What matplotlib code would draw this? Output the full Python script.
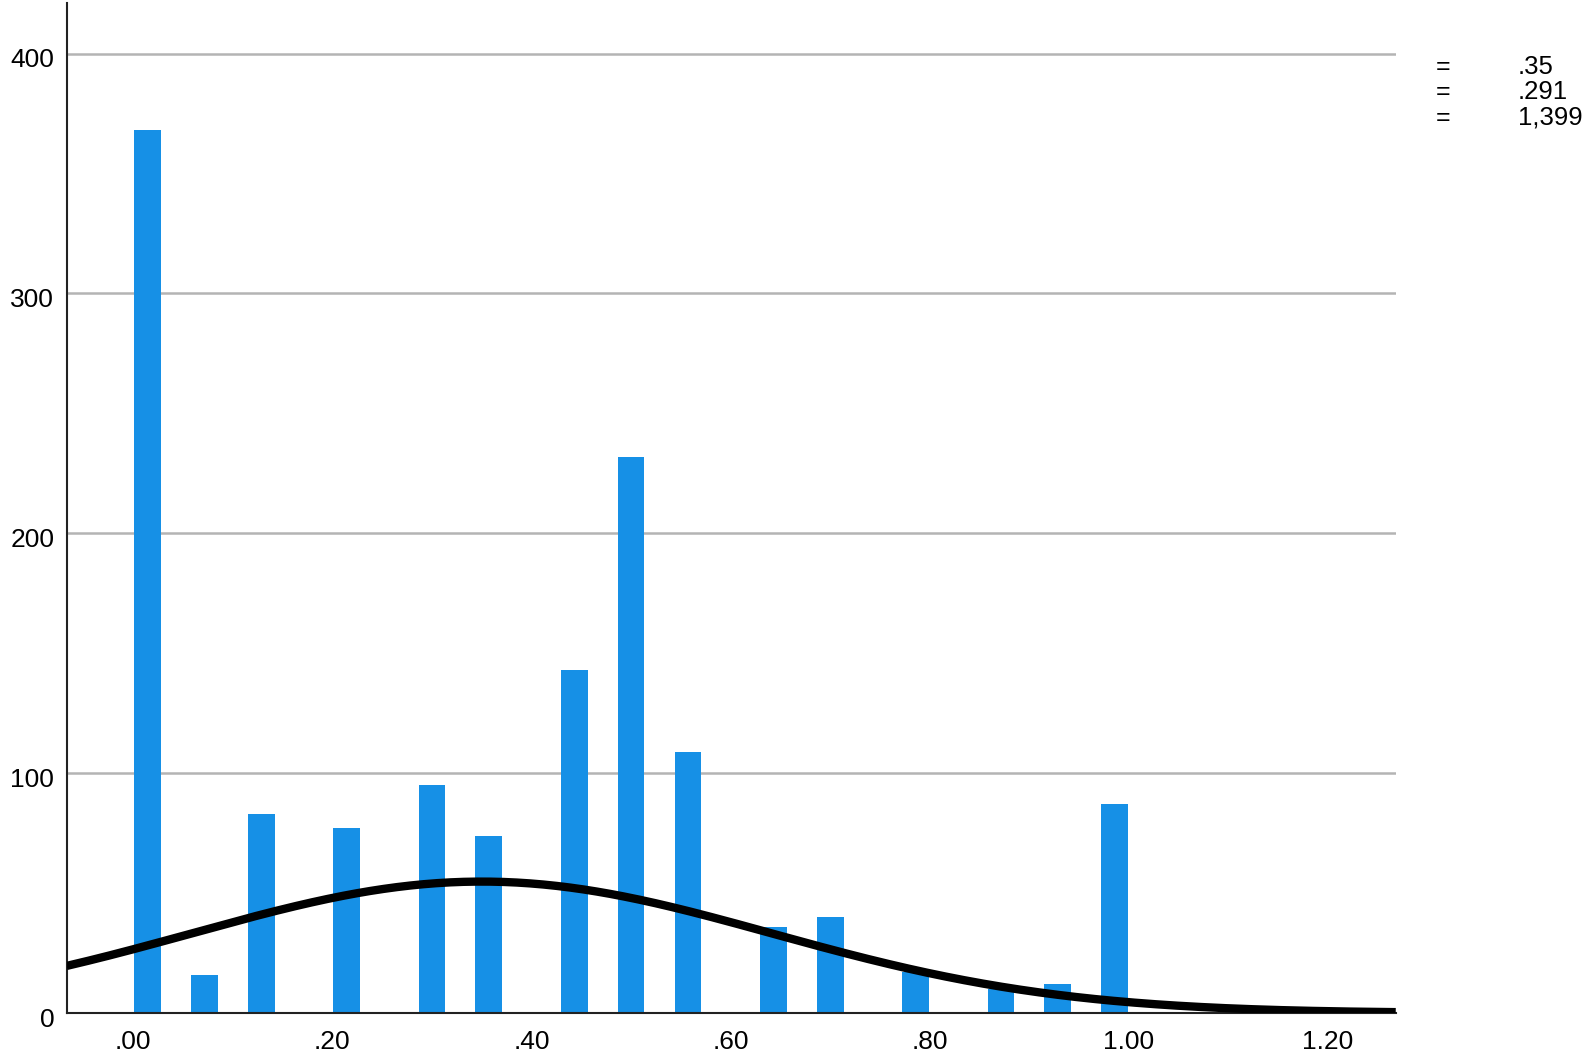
import numpy as np
import matplotlib
matplotlib.use("Agg")
import matplotlib.pyplot as plt
import matplotlib.transforms as mtransforms

plt.rcParams['font.family'] = ['Liberation Sans', 'DejaVu Sans']

# Data
n_bins_per_unit = 35                      # bin width = 1/35
bin_index = [0, 2, 4, 7, 10, 12, 15, 17, 19, 22, 24, 27, 30, 32, 34]
counts = [368, 16, 83, 77, 95, 74, 143, 232, 109, 36, 40, 17, 10, 12, 87]
mean_val = 0.35
std_val = 0.291
n_total = 1399
stat_values = [".35", ".291", "1,399"]
x_ticks = [0.0, 0.2, 0.4, 0.6, 0.8, 1.0, 1.2]
x_tick_labels = [".00", ".20", ".40", ".60", ".80", "1.00", "1.20"]
y_ticks = [0, 100, 200, 300, 400]

bw = 1.0 / n_bins_per_unit
centers = [(k + 0.5) * bw for k in bin_index]

fig = plt.figure(figsize=(15.83, 10.57), dpi=100)
ax = fig.add_axes([0.0421, 0.0416, 0.8396, 0.9554])

xmin, xmax = -0.0669, 1.268
ax.set_xlim(xmin, xmax)
ax.set_ylim(0, 421)

for y in y_ticks[1:]:
    ax.axhline(y, color='#b4b4b4', lw=1.8, zorder=1)

ax.bar(centers, counts, width=bw * 0.94, color='#1690e6', zorder=2, linewidth=0)

xs = np.linspace(xmin, xmax, 500)
ys = n_total * bw / (std_val * np.sqrt(2 * np.pi)) * np.exp(-0.5 * ((xs - mean_val) / std_val) ** 2)
ax.plot(xs, ys, color='black', lw=6, zorder=3, solid_capstyle='butt')

for s in ['top', 'right']:
    ax.spines[s].set_visible(False)
for s in ['left', 'bottom']:
    ax.spines[s].set_color('#222222')
    ax.spines[s].set_linewidth(1.5)

ax.set_xticks(x_ticks)
ax.set_xticklabels(x_tick_labels)
ax.set_yticks(y_ticks)
ax.tick_params(axis='both', length=0, labelsize=19)
ax.tick_params(axis='y', pad=9)
ax.tick_params(axis='x', pad=12)
offset = mtransforms.ScaledTranslation(0, -4 / 100, fig.dpi_scale_trans)
for lab in ax.get_yticklabels():
    lab.set_transform(lab.get_transform() + offset)

ys_txt = [67, 92, 118]
for yy, val in zip(ys_txt, stat_values):
    yf = 1 - yy / 1057
    fig.text(1443 / 1583, yf, "=", ha='center', va='center', fontsize=18)
    fig.text(1518 / 1583, yf, val, ha='left', va='center', fontsize=18.5)

fig.savefig("out.png", dpi=100)
